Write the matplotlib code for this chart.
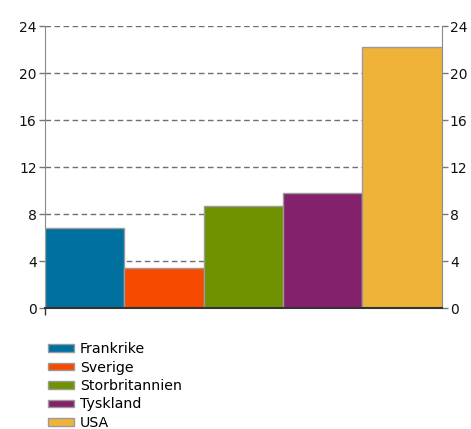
import matplotlib.pyplot as plt
from matplotlib.patches import Patch

countries = ["Frankrike", "Sverige", "Storbritannien", "Tyskland", "USA"]
values = [6.8, 3.4, 8.7, 9.8, 22.2]
colors = ["#00709f", "#f64a00", "#6f9300", "#84216b", "#efb33a"]
yticks = [0, 4, 8, 12, 16, 20, 24]

plt.rcParams['font.family'] = ['DejaVu Sans']
fig = plt.figure(figsize=(4.71, 4.29), dpi=100)
ax = fig.add_axes([0.0955, 0.2814, 0.842, 0.6573])

# one bar per country, butted together across the whole plot width
ax.bar(range(len(values)), values, width=1.0, align='edge', color=colors,
       edgecolor='#9a9a9a', linewidth=1, zorder=3)

ax.set_xlim(0, len(values))
ax.set_ylim(0, 24)
ax.set_yticks(yticks)
ax.set_xticks([0])
ax.set_xticklabels([])
ax.yaxis.grid(True, linestyle=(0, (4, 2.5)), color='#6f6f6f', linewidth=1, zorder=0)

ax.tick_params(axis='y', which='both', left=True, right=True, labelleft=True,
               labelright=True, length=4, width=1, color='#777777', pad=2,
               labelsize=10, labelcolor='#111111')
ax.tick_params(axis='x', length=5, width=1, color='#333333')

for side in ['left', 'right']:
    ax.spines[side].set_color('#8a8a8a')
ax.spines['top'].set_visible(False)
ax.spines['bottom'].set_color('#333333')
ax.spines['bottom'].set_linewidth(1.5)
ax.spines['bottom'].set_zorder(4)

handles = [Patch(facecolor=c, edgecolor='#9a9a9a', label=n) for c, n in zip(colors, countries)]
fig.legend(handles=handles, loc='upper left', bbox_to_anchor=(0.102, 0.2023),
           frameon=False, fontsize=10.2, handlelength=1.85, handleheight=0.45,
           handletextpad=0.4, labelspacing=0.31, borderpad=0, borderaxespad=0)

fig.savefig('out.png', dpi=100)
